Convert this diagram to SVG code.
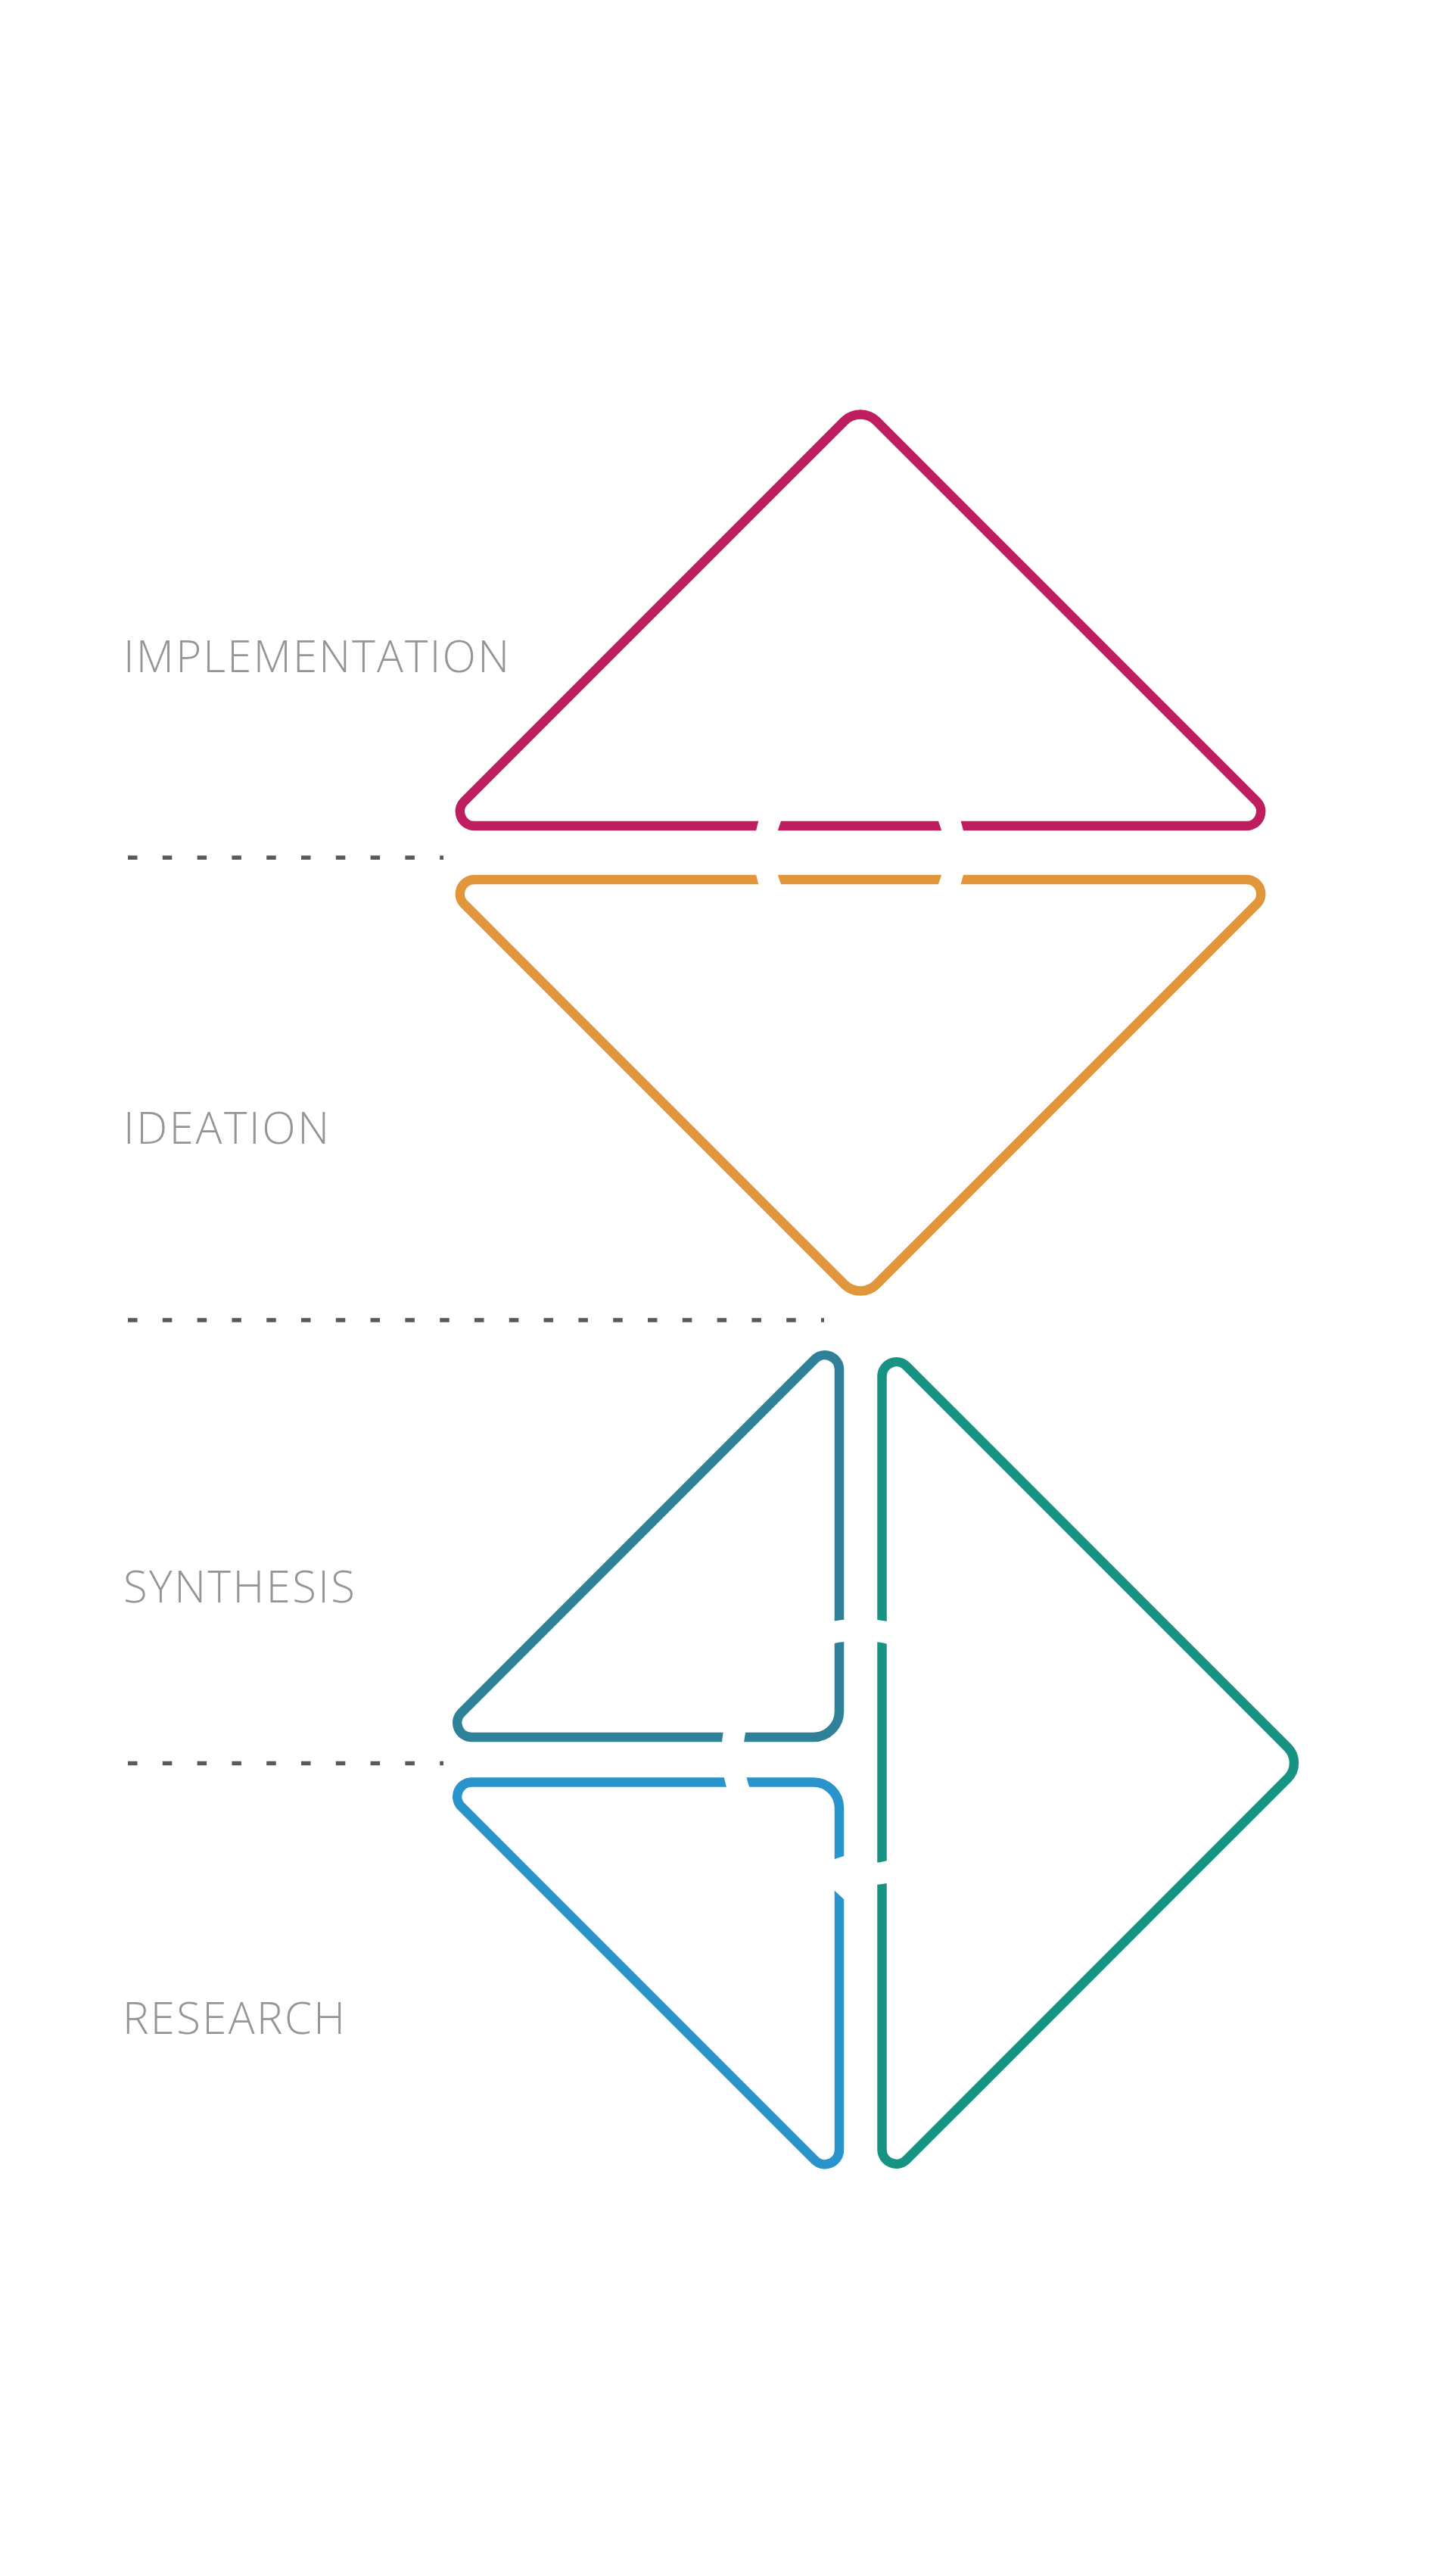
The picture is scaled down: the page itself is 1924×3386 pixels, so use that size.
<svg xmlns="http://www.w3.org/2000/svg" width="1924" height="3386" viewBox="0 0 1924 3386">
  <style>
    .shape { fill: none; stroke-width: 12.5; stroke-linejoin: round; }
    .label { font-family: "Open Sans", "Liberation Sans", sans-serif; font-weight: 300; font-size: 58px; fill: #939598; }
    .divider { stroke: #58595b; stroke-width: 5.5; stroke-dasharray: 12.5 33.3; fill: none; }
    .knockout { fill: none; stroke: #ffffff; }
  </style>
  <defs>
    <!-- triangle with flat base, apex up -->
    <path id="tri-up" d="M 626.87 1091 A 19 19 0 0 1 613.44 1058.56 L 1115.79 556.21 A 30 30 0 0 1 1158.21 556.21 L 1660.56 1058.56 A 19 19 0 0 1 1647.13 1091 Z"/>
    <!-- right triangle, right angle at bottom right -->
    <path id="tri-right" d="M 1109 1809.27 L 1109 2261 A 34 34 0 0 1 1075 2295 L 623.27 2295 A 19 19 0 0 1 609.84 2262.56 L 1076.56 1795.84 A 19 19 0 0 1 1109 1809.27 Z"/>
  </defs>

  <rect width="1924" height="3386" fill="#ffffff"/>

  <!-- phase labels -->
  <g id="label-implementation"><text class="label" x="163" y="888" textLength="510" lengthAdjust="spacing">IMPLEMENTATION</text></g>
  <g id="label-ideation"><text class="label" x="163" y="1511" textLength="272" lengthAdjust="spacing">IDEATION</text></g>
  <g id="label-synthesis"><text class="label" x="163" y="2117" textLength="306" lengthAdjust="spacing">SYNTHESIS</text></g>
  <g id="label-research"><text class="label" x="162" y="2687" textLength="294" lengthAdjust="spacing">RESEARCH</text></g>

  <!-- dashed phase dividers -->
  <g id="dividers">
    <line class="divider" x1="169" y1="1133" x2="586" y2="1133"/>
    <line class="divider" x1="169" y1="1744" x2="1089" y2="1744"/>
    <line class="divider" x1="169" y1="2329.5" x2="586" y2="2329.5"/>
  </g>

  <!-- phase shapes -->
  <g id="implementation"><use href="#tri-up" class="shape" stroke="#be1e5d"/></g>
  <g id="ideation"><use href="#tri-up" class="shape" stroke="#e2963b" transform="matrix(1 0 0 -1 0 2253)"/></g>
  <g id="synthesis"><use href="#tri-right" class="shape" stroke="#2e8199"/></g>
  <g id="research"><use href="#tri-right" class="shape" stroke="#2993cc" transform="matrix(1 0 0 -1 0 4649.5)"/></g>
  <g id="loop">
    <path class="shape" stroke="#179383" d="M 1197.94 1804.84 L 1701.49 2308.49 A 29 29 0 0 1 1701.49 2349.51 L 1197.94 2853.16 A 19 19 0 0 1 1165.5 2839.73 L 1165.5 1818.27 A 19 19 0 0 1 1197.94 1804.84 Z"/>
  </g>

  <!-- white rings cutting the outlines -->
  <g id="connectors">
    <circle class="knockout" cx="1136" cy="1126.5" r="126" stroke-width="28"/>
    <ellipse class="knockout" cx="1136" cy="2315" rx="168" ry="162" stroke-width="29"/>
    <polygon fill="#ffffff" points="1099,2457.3 1119,2450.7 1119,2512.7 1099,2494.3"/>
  </g>
</svg>
